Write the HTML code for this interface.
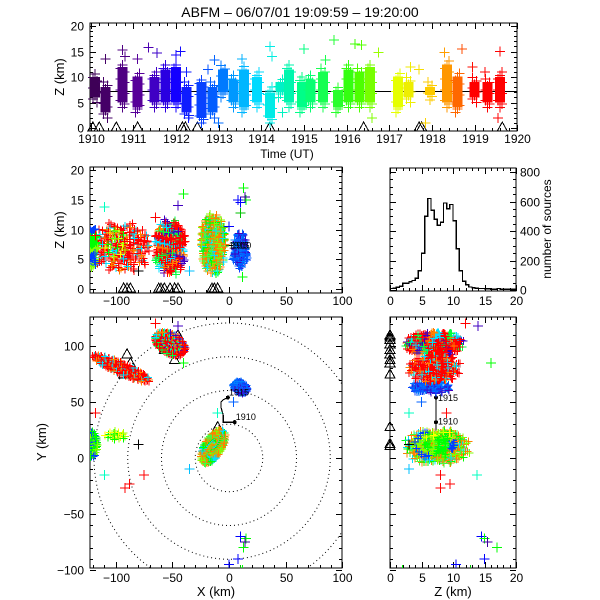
<!DOCTYPE html>
<html><head><meta charset="utf-8"><style>
html,body{margin:0;padding:0;background:#fff}
svg{display:block;font-family:"Liberation Sans",sans-serif}
</style></head><body>
<svg id="chart" width="600" height="600" viewBox="0 0 600 600" xmlns="http://www.w3.org/2000/svg" shape-rendering="crispEdges">
<rect x="0" y="0" width="600" height="600" fill="#fff"/>
<text x="300" y="17" font-size="14" text-anchor="middle">ABFM – 06/07/01 19:09:59 – 19:20:00</text>
<g id="g"></g>
</svg>
<script>
const colTime = [1910.1,1910.35,1910.75,1911.1,1911.5,1911.75,1912.0,1912.25,1912.6,1912.85,1913.1,1913.35,1913.6,1913.9,1914.2,1914.45,1914.65,1914.95,1915.15,1915.45,1915.8,1916.05,1916.3,1916.55,1917.2,1917.45,1917.95,1918.35,1918.6,1919.0,1919.3,1919.6];
const colZLow  = [6,3,5,4,5,5,5,3,2,3,7,5,4,5,2,7,5,4,5,5,4,5,5,5,4,6,6.5,5,4,6,5,5];
const colZHigh = [10,8,12,10,10,11.5,12,8,9,8,11.5,9.5,11.5,10,7,9,11.5,9,9.5,11,7.5,11.5,11,12,10,9,8,12.5,10,9,9,10];
const outT = [1910.35,1910.75,1910.8,1911.1,1911.35,1911.55,1912.0,1912.1,1912.25,1912.75,1912.9,1913.55,1914.2,1914.25,1915.0,1915.5,1915.7,1916.2,1916.35,1916.75,1917.5,1917.7,1918.3,1918.7,1918.95,1919.25,1919.6,1912.3,1913.0,1914.5,1916.6,1917.85,1919.55];
const outZ = [13.5,15.3,14,13.5,15.8,14.7,14.3,15,11,11.5,13.3,13.5,16,14,15.5,13.3,17.3,16.5,16.3,14.8,12,11.5,14.8,15.5,12,11,15,2.5,1,3,2,1,2];
const meanZ = 7.3;
const stationT = [1910.05,1910.2,1910.6,1911.1,1912.15,1912.22,1912.5,1914.2,1916.4,1917.7,1917.76,1919.65];
const histBins = [0,0.5,1,1.5,2,2.5,3,3.5,4,4.5,5,5.5,6,6.5,7,7.5,8,8.5,9,9.5,10,10.5,11,11.5,12,12.5,13,13.5,14,14.5,15,15.5,16,16.5,17,17.5,18,18.5,19,19.5];
const histCounts = [10,12,18,25,45,45,55,65,80,130,250,500,620,540,480,440,460,590,550,580,470,280,130,60,35,20,15,12,10,10,8,8,5,5,10,5,5,5,5,5];
const clName = ['storm-a','storm-b','storm-c','storm-d','storm-e','storm-f'];
const clX  = [-14,10,-52,-95,-121,-100];
const clY  = [10,63,102,80,12,20];
const clZ  = [7.5,6.5,7,7,7,8];
const clSX = [17,5,15,28,5,10];
const clSY = [8,7,9,5,12,4];
const clSZ = [5.5,3.5,5,4.5,4,3];
const clRot= [60,60,-30,-24,0,0];
const clN  = [300,100,300,220,90,20];
const clCol= [['#00ff00','#00e0ff','#ff8000','#80ff00','#ff8000','#40ff40','#ff8000'],['#0060ff','#1040ff','#0080ff','#4000c0','#0060ff'],['#ff0000','#ff8000','#00ff40','#ff0000','#00e0ff','#ff0000','#4000c0','#ff0000'],['#ff0000','#ff8000','#ff0000','#00e0ff','#ff0000','#ff0000'],['#00ff00','#80ff00','#0040ff','#00ff00'],['#00ff00','#a0ff00','#ffff00']];
const oX = [-118,-75,-92,-88,-80,-110,-35,10,15,13,14,8,10,0,12,-45,-10,4,-65,-40];
const oY = [40,-15,-27,-23,12,-15,-10,-70,-72,-80,-75,-90,-100,-95,-100,118,40,50,120,85];
const oZ = [9,8,8,9.5,3,13.8,3,14.5,15,17,15.5,15,12.8,10.5,2,14,3,5,12,16];
const oC = ['#ff0000','#ff0000','#ff0000','#ff0000','#000000','#00ffc0','#00c0ff','#0000ff','#00ff00','#00ff00','#4000a0','#0000ff','#00c000','#0000ff','#00ff00','#4000c0','#00ffc0','#0060ff','#ff0000','#00ff00'];
const stX = [-13,-10,-90,-87,-93,-48,-60,-57,-52,-45,-15,-62];
const stY = [13,28,93,85,75,88,102,97,106,110,11,108];
const trackX = [5,-5,-5,-7,-7,-5,-3,-1];
const trackY = [32,32,38,45,50,52,53,54];

const NS='http://www.w3.org/2000/svg';
const G=document.getElementById('g');
function el(tag,attrs,parent){const e=document.createElementNS(NS,tag);for(const k in attrs)e.setAttribute(k,attrs[k]);(parent||G).appendChild(e);return e;}
function txt(x,y,s,size,anchor,rot){const e=el('text',{x:x,y:y,'font-size':size,'text-anchor':anchor||'middle'});if(rot)e.setAttribute('transform','rotate('+rot+' '+x+' '+y+')');e.textContent=s;return e;}
function cross(p,x,y,h,c){el('path',{d:'M'+(x-h)+' '+y+'H'+(x+h)+'M'+x+' '+(y-h)+'V'+(y+h),stroke:c,'stroke-width':1,fill:'none'},p);}
function tri(p,x,y){el('path',{d:'M'+x+' '+(y-7)+'L'+(x-5)+' '+(y+2)+'L'+(x+5)+' '+(y+2)+'Z',stroke:'#000',fill:'none','stroke-width':1},p);}
function frame(name,x0,y0,x1,y1){const g=el('g',{});el('rect',{x:x0,y:y0,width:x1-x0,height:y1-y0,fill:'none',stroke:'#000','stroke-width':1},g);return g;}
function xticks(g,sx,y0,y1,from,to,maj,min,labels,ly,fmt){for(let v=from;v<=to+1e-9;v+=min){const x=Math.round(sx(v))+0.5;const isM=Math.abs(v/maj-Math.round(v/maj))<1e-6;const L=isM?6:3;el('path',{d:'M'+x+' '+y1+'v'+(-L)+'M'+x+' '+y0+'v'+L,stroke:'#000'},g);if(isM&&labels){txt(x,ly,fmt?fmt(v):String(Math.round(v)).replace('-','−'),12);}}}
function yticks(g,sy,x0,x1,from,to,maj,min,labels,lx,anchor){for(let v=from;v<=to+1e-9;v+=min){const y=Math.round(sy(v))+0.5;const isM=Math.abs(v/maj-Math.round(v/maj))<1e-6;const L=isM?6:3;el('path',{d:'M'+x0+' '+y+'h'+L+'M'+x1+' '+y+'h'+(-L),stroke:'#000'},g);if(isM&&labels){txt(lx,y+4,String(Math.round(v)).replace('-','−'),12,anchor||'end');}}}
function colorAt(t){const f=(t-1910)/10;const stops=[[0,[60,0,80]],[0.12,[90,0,160]],[0.2,[20,0,255]],[0.3,[0,110,255]],[0.4,[0,230,255]],[0.5,[0,255,130]],[0.62,[60,255,0]],[0.72,[230,255,0]],[0.8,[255,200,0]],[0.85,[255,130,0]],[0.9,[255,0,0]],[1,[255,0,0]]];for(let i=1;i<stops.length;i++){if(f<=stops[i][0]){const a=stops[i-1],b=stops[i];const u=(f-a[0])/(b[0]-a[0]);const c=a[1].map((v,k)=>Math.round(v+(b[1][k]-v)*u));return 'rgb('+c.join(',')+')';}}return 'rgb(255,0,0)';}

// ===== TOP PANEL =====
const tx=t=>90.7+(t-1910)*42.65, tz=z=>128-z*5.1;
const topPanel=frame('time-height-panel',90,23,517,131);
const topMarks=el('g',{});
for(let i=0;i<colTime.length;i++){const c=colorAt(colTime[i]);const x=tx(colTime[i]);
 const r=el('rect',{x:x-5,y:tz(colZHigh[i]),width:10,height:tz(colZLow[i])-tz(colZHigh[i]),fill:c},topMarks);
 
 
 for(let z=colZLow[i]-1;z<=colZHigh[i]+1;z+=0.7){cross(topMarks,x+((Math.round(z*10)*7)%3-1)*2,tz(z),5,c);}
}
for(let i=0;i<outT.length;i++)cross(topMarks,tx(outT[i]),tz(outZ[i]),5,colorAt(outT[i]));
el('path',{d:'M90 '+(Math.round(tz(meanZ))+0.5)+'H517',stroke:'#000'},topPanel);
for(const t of stationT)tri(topPanel,tx(t),tz(0)+1);
xticks(topPanel,tx,23,131,1910,1920,1,0.2,true,143);
yticks(topPanel,tz,90,517,0,20,5,1,true,84);
txt(287,158,'Time (UT)',12);
txt(64,77,'Z (km)',13,'middle',-90);

// ===== MIDDLE / PLAN / RIGHT =====
const px=x=>229+x*1.133, py=y=>458-y*1.12, pz=z=>289-z*5.95, rz=z=>390+z*6.3;
const defs=el('defs',{});
const cp1=el('clipPath',{id:'cm'},defs);el('rect',{x:90,y:167,width:252,height:126},cp1);
const cp2=el('clipPath',{id:'cp'},defs);el('rect',{x:90,y:317,width:252,height:251},cp2);
const cp3=el('clipPath',{id:'cr'},defs);el('rect',{x:390,y:317,width:126,height:251},cp3);
const midPanel=frame('x-height-panel',90,167,342,293);
const midMarks=el('g',{'clip-path':'url(#cm)'});
const planPanel=frame('plan-view-panel',90,317,342,568);
for(const r of [30,60,90,120]){const c=el('circle',{cx:px(0),cy:py(0),r:r*1.125,fill:'none',stroke:'#000','stroke-width':1,'stroke-dasharray':'1 3','clip-path':'url(#cp)','shape-rendering':'auto'},planPanel);}
const planMarks=el('g',{'clip-path':'url(#cp)'});
const rightPanel=frame('height-y-panel',390,317,516,568);
const rightMarks=el('g',{'clip-path':'url(#cr)'});
for(let k=0;k<clX.length;k++){const n=clN[k],a=clRot[k]*Math.PI/180;
 for(let i=0;i<n;i++){const r=Math.sqrt((i+0.5)/n),th=i*2.39996;const u=r*Math.cos(th)*clSX[k],v=r*Math.sin(th)*clSY[k];
  const x=clX[k]+u*Math.cos(a)-v*Math.sin(a),y=clY[k]+u*Math.sin(a)+v*Math.cos(a);
  const w=((i*0.7548776+0.31)%1)*2-1;
  const z=clZ[k]+w*Math.sqrt(Math.max(0,1-r*r*0.85))*clSZ[k];const c=clCol[k][i%clCol[k].length];
  cross(planMarks,px(x),py(y),4,c);cross(midMarks,px(x),pz(z),4,c);cross(rightMarks,rz(z),py(y),4,c);}
}
for(let i=0;i<oX.length;i++){cross(planMarks,px(oX[i]),py(oY[i]),5,oC[i]);cross(midMarks,px(oX[i]),pz(oZ[i]),5,oC[i]);cross(rightMarks,rz(oZ[i]),py(oY[i]),5,oC[i]);}
let d='';for(let i=0;i<trackX.length;i++)d+=(i?'L':'M')+px(trackX[i])+' '+py(trackY[i]);
el('path',{d:d,stroke:'#000',fill:'none','stroke-width':1.2},planPanel);
el('circle',{cx:px(trackX[0]),cy:py(trackY[0]),r:2,fill:'#000'},planPanel);
el('circle',{cx:px(trackX[trackX.length-1]),cy:py(trackY[trackY.length-1]),r:2,fill:'#000'},planPanel);
txt(px(6),py(34),'1910',9,'start');txt(px(0),py(56),'1915',9,'start');
el('path',{d:'M'+rz(meanZ)+' '+py(trackY[0]-8)+'V'+py(trackY[trackY.length-1]),stroke:'#000','stroke-width':1.2},rightPanel);
el('circle',{cx:rz(meanZ),cy:py(trackY[0]),r:2,fill:'#000'},rightPanel);el('circle',{cx:rz(meanZ),cy:py(trackY[trackY.length-1]),r:2,fill:'#000'},rightPanel);
txt(rz(meanZ)+2,py(30),'1910',9,'start');txt(rz(meanZ)+2,py(51),'1915',9,'start');
el('path',{d:'M'+px(-3)+' '+pz(meanZ)+'H'+px(7),stroke:'#000','stroke-width':1.2},midPanel);
txt(px(0),pz(meanZ)+3,'1915',9,'start');txt(px(2),pz(meanZ)+3,'1910',9,'start');
for(let i=0;i<stX.length;i++){tri(planPanel,px(stX[i]),py(stY[i])+2);tri(midPanel,px(stX[i]),pz(0)+1);tri(rightPanel,rz(0),py(stY[i])+2);}
xticks(midPanel,px,167,293,-120,100,50,10,true,305);
yticks(midPanel,pz,90,342,0,20,5,1,true,84);
txt(64,230,'Z (km)',13,'middle',-90);
xticks(planPanel,px,317,568,-120,100,50,10,true,582);
yticks(planPanel,py,90,342,-100,120,50,10,true,84);
txt(216,596,'X (km)',13);txt(46,442,'Y (km)',13,'middle',-90);
xticks(rightPanel,rz,317,568,0,20,5,1,true,582);
yticks(rightPanel,py,390,516,-100,120,50,10,false,0);
txt(453,596,'Z (km)',13);

// ===== HISTOGRAM =====
const hx=z=>390+z*6.3, hy=v=>290-v*0.1475;
const hist=frame('height-histogram',390,168,516,291);
let hd='M'+hx(histBins[0])+' '+hy(0);
for(let i=0;i<histBins.length;i++){hd+='V'+hy(histCounts[i])+'H'+hx(histBins[i]+0.5);}
const hp=el('path',{d:hd,stroke:'#000',fill:'none','stroke-width':1.3},hist);


xticks(hist,hx,168,291,0,20,5,1,true,305);
for(let v=0;v<=800;v+=50){const y=Math.round(hy(v))+0.5;const M=v%200===0;const L=M?6:3;el('path',{d:'M390 '+y+'h'+L+'M516 '+y+'h'+(-L),stroke:'#000'},hist);if(M)txt(520,y+4,String(v),12,'start');}
txt(551,229,'number of sources',12,'middle',-90);
</script>
</body></html>
